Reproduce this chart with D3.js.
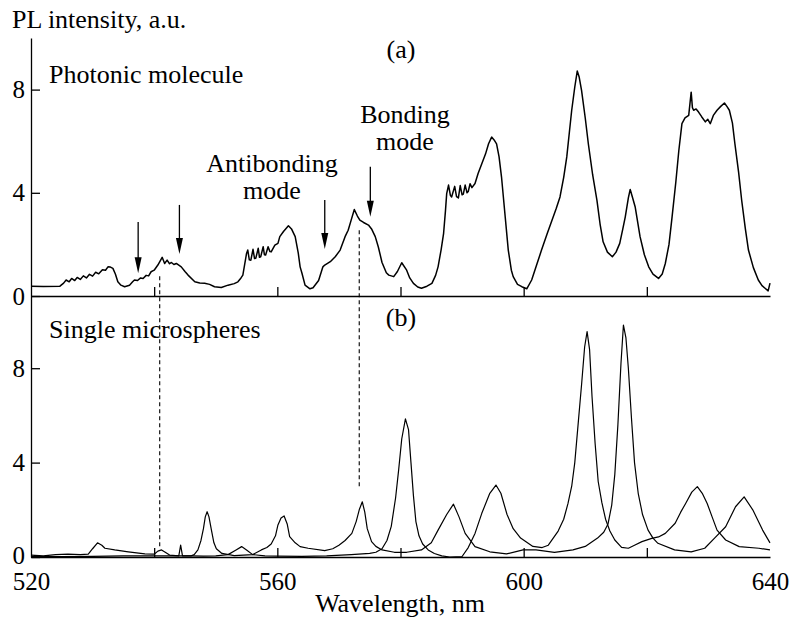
<!DOCTYPE html>
<html>
<head>
<meta charset="utf-8">
<title>PL spectra: photonic molecule vs single microspheres</title>
<script src="https://d3js.org/d3.v7.min.js"></script>
<style>
  html, body { margin: 0; padding: 0; background: #fff; }
  svg text { font-family: "Liberation Serif", "Times New Roman", serif; fill: #000; }
  .axis path, .axis line { stroke: #000; stroke-width: 1.3; }
  .axis text { font-family: "Liberation Serif", "Times New Roman", serif; font-size: 25px; }
  .curve { fill: none; stroke: #000; stroke-linejoin: round; }
</style>
</head>
<body>
<svg id="chart" width="793" height="621"></svg>
<script>
// wavelength (nm), intensity (a.u.)
const moleculeSpectrum = [
  [520,0.38],[522,0.37],[524.7,0.38],[525.3,0.5],[525.7,0.62],[526.2,0.55],[526.6,0.68],[527.1,0.6],
  [527.5,0.72],[528,0.64],[528.5,0.78],[529,0.7],[529.5,0.84],[530,0.77],[530.5,0.92],[531,0.86],
  [531.6,1.02],[532.1,1.0],[532.5,1.13],[532.9,1.12],[533.3,1.07],[533.7,0.85],[534.1,0.55],[534.6,0.42],
  [535.2,0.36],[536,0.42],[536.5,0.55],[536.8,0.62],[537.3,0.6],[537.8,0.7],[538.2,0.68],[538.7,0.8],
  [539.1,0.78],[539.5,0.94],[540,1.0],[540.6,1.2],[541.3,1.5],[541.7,1.26],[542.1,1.39],[542.5,1.25],
  [542.8,1.3],[543.2,1.22],[543.6,1.26],[544.4,1.13],[545,0.95],[545.5,0.81],[546.6,0.55],[547.4,0.5],
  [548.2,0.49],[549,0.45],[549.8,0.36],[550.9,0.33],[552,0.42],[553,0.48],[553.6,0.55],[554.1,0.7],
  [554.4,0.81],[555,1.65],[555.2,1.78],[555.45,1.4],[555.7,1.39],[556.05,1.81],[556.3,1.45],[556.5,1.46],
  [556.9,1.85],[557.1,1.5],[557.3,1.52],[557.7,1.91],[557.9,1.6],[558.1,1.59],[558.5,1.91],[558.8,1.72],
  [559,1.71],[559.6,1.97],[560.1,2.04],[560.4,2.3],[561,2.5],[561.8,2.72],[562.3,2.6],[562.9,2.3],
  [563.4,1.66],[563.7,1.13],[564,0.88],[564.5,0.42],[565.3,0.28],[565.8,0.32],[566.7,0.6],[567.4,1.13],
  [567.7,1.2],[568.6,1.33],[569.4,1.52],[570.2,1.78],[571,2.3],[571.5,2.55],[572,2.95],[572.5,3.35],
  [573,3.1],[573.4,2.94],[574,2.85],[574.8,2.75],[575.3,2.6],[575.9,2.3],[576.4,1.9],[577,1.3],
  [577.7,0.9],[578.1,0.81],[578.9,0.75],[579.5,0.95],[580.2,1.29],[581,1.0],[581.5,0.7],[582.1,0.49],
  [582.8,0.35],[583.4,0.3],[584.3,0.38],[585.1,0.49],[585.7,0.8],[586.1,1.13],[586.6,1.8],[587,2.43],
  [587.3,3.3],[587.5,3.97],[587.8,4.3],[588.1,3.9],[588.3,3.84],[588.8,4.25],[589.1,3.85],[589.4,3.8],
  [589.7,4.28],[590,3.92],[590.2,3.95],[590.5,4.3],[590.8,4.0],[591,4.05],[591.3,4.35],[591.6,4.2],
  [592.1,4.36],[592.6,4.75],[593.2,5.13],[593.8,5.5],[594.3,5.9],[594.8,6.16],[595.2,6.05],[595.6,5.9],
  [596,5.4],[596.4,4.62],[597,3.07],[597.5,1.78],[598,1.0],[598.3,0.75],[599,0.45],[599.7,0.36],
  [600.5,0.28],[601.3,0.62],[602.1,1.2],[602.9,1.78],[603.8,2.4],[604.6,2.94],[605.3,3.4],[605.9,3.84],
  [606.5,4.6],[607,5.39],[607.4,6.3],[607.8,7.2],[608.3,8.1],[608.7,8.72],[609,8.5],[609.4,7.97],
  [610,6.9],[610.5,5.9],[611.2,4.7],[611.9,3.71],[612.4,2.8],[612.9,2.1],[613.6,1.7],[614.4,1.52],
  [615,1.7],[615.6,2.04],[616.1,2.6],[616.5,3.07],[617,3.8],[617.3,4.13],[617.7,3.8],[618.1,3.46],
  [618.9,2.3],[619.6,1.6],[620.3,1.13],[621,0.85],[621.9,0.68],[622.5,0.85],[623,1.26],[623.6,2.0],
  [624.1,3.07],[624.7,4.4],[625.2,5.65],[625.7,6.68],[626.2,6.9],[626.8,7.0],[627.2,7.9],[627.4,7.3],
  [627.6,7.2],[628,7.25],[628.4,7.13],[628.9,6.95],[629.5,6.75],[629.9,6.85],[630.3,6.68],[630.8,7.0],
  [631.4,7.2],[632,7.35],[632.6,7.48],[633,7.35],[633.4,7.2],[633.9,6.7],[634.3,5.9],[634.9,4.8],
  [635.4,3.71],[636,2.6],[636.5,1.78],[637.3,1.1],[638.1,0.62],[638.7,0.4],[639.2,0.3],[639.7,0.2],[640,0.5]
];

const sphere1Spectrum = [
  [520,0.08],[522,0.05],[524,0.1],[526,0.12],[528,0.1],[529.3,0.12],[530,0.35],[530.8,0.6],[531.5,0.5],
  [532,0.37],[533.6,0.3],[535.8,0.22],[538.5,0.13],[540,0.12],[540.6,0.25],[541.2,0.3],[541.8,0.2],
  [542.5,0.08],[544,0.05],[546,0.05],[548,0.04],[550,0.05],[552,0.1],[553.3,0.3],[554.2,0.44],[555,0.3],
  [556,0.1],[558,0.05],[560,0.04],[564,0.03],[568,0.05],[572,0.1],[575,0.15],[576,0.2],[577,0.35],
  [577.8,0.7],[578.5,1.3],[579.2,2.5],[579.7,3.69],[580.2,5.0],[580.8,5.85],[581.3,5.4],[581.7,4.0],
  [582.1,2.6],[582.5,1.5],[583,0.9],[583.6,0.55],[584.5,0.3],[585.5,0.15],[586.7,0.05],[588,0.0],
  [590,0.02],[591,0.4],[592.1,1.0],[593.2,1.85],[594.5,2.7],[595.5,3.05],[596.3,2.7],[597.3,1.8],
  [598.3,1.2],[599.5,0.8],[601.5,0.45],[603,0.4],[604,0.5],[605.6,1.1],[606.5,1.6],[607.2,2.27],
  [607.8,3.0],[608.3,4.0],[608.9,5.8],[609.4,7.3],[609.9,8.9],[610.3,9.55],[610.7,8.8],[611.1,6.8],
  [611.6,4.82],[612.1,3.2],[612.7,2.3],[613.3,1.6],[614,1.1],[614.8,0.72],[615.9,0.41],[617,0.37],
  [618,0.5],[619.2,0.65],[620.8,0.79],[621.9,0.85],[623,1.0],[624.6,1.43],[625.5,1.9],[626.3,2.27],
  [627.3,2.75],[628.2,2.98],[629,2.7],[629.8,2.27],[630.6,1.7],[631.4,1.14],[632.8,0.72],[635,0.44],
  [638.2,0.37],[640,0.3]
];

const sphere2Spectrum = [
  [520,0.02],[525,0.02],[530,0.03],[535,0.05],[540,0.05],[544,0.05],[544.3,0.5],[544.6,0.05],[546,0.05],
  [546.5,0.1],[547.1,0.3],[547.6,0.7],[548,1.2],[548.3,1.7],[548.6,1.92],[548.9,1.7],[549.3,1.14],
  [549.7,0.6],[550.1,0.35],[551,0.15],[553,0.06],[556,0.1],[557.4,0.3],[558.3,0.4],[559,0.55],
  [559.7,0.9],[560.1,1.36],[560.6,1.65],[561.1,1.74],[561.6,1.4],[562,0.86],[562.9,0.6],[563.7,0.44],
  [565,0.37],[567.7,0.27],[569,0.35],[570,0.5],[571,0.7],[572.1,1.0],[572.8,1.5],[573.3,2.0],
  [573.8,2.34],[574.2,1.9],[574.6,1.2],[575.3,0.65],[576,0.45],[577,0.3],[579,0.2],[581,0.2],
  [583.4,0.3],[585,0.6],[586.1,1.14],[587.5,1.8],[588.6,2.24],[589.5,1.7],[590.5,1.0],[592.1,0.44],
  [594.5,0.22],[597.2,0.13],[599.9,0.3],[602,0.3],[605,0.2],[608,0.3],[610,0.45],[612,0.8],[613,1.05],
  [613.7,1.4],[614.3,2.2],[614.8,3.5],[615.3,5.6],[615.8,8.2],[616.2,9.83],[616.6,9.3],[617,8.0],
  [617.5,5.9],[618,4.0],[618.6,2.7],[619.3,1.8],[620.2,1.14],[621,0.8],[621.8,0.58],[624.5,0.3],
  [627.2,0.22],[629.4,0.37],[631,0.8],[632.8,1.28],[634.4,2.13],[635.8,2.55],[637.2,2.0],[638.8,1.14],[640,0.6]
];

// arrows in panel (a): wavelength, intensity at tail, intensity at tip
const modeArrows = [[537.4,2.87,0.88],[544.1,3.53,1.63],[567.7,3.72,1.82],[575.1,5.01,3.07]];
// dashed guides: wavelength, start intensity in (a), end intensity in (b)
const guideLines = [[540.9,0.77,0.44],[573.3,2.55,2.98]];

const xMinorTicks = [540,560,580,600,620];
const xLabelTicks = [520,560,600,640];
const yTicks = [0,4,8];

const svg = d3.select("#chart");
const x = d3.scaleLinear().domain([520,640]).range([31,770]);
const yA = d3.scaleLinear().domain([0,10]).range([296,38]);
const yB = d3.scaleLinear().domain([0,11.06]).range([557,296]);

// axes
function panelAxes(y, y0) {
  const g = svg.append("g").attr("class","axis")
    .attr("transform","translate(0," + y0 + ")")
    .call(d3.axisBottom(x).tickValues(xMinorTicks).tickSize(-9).tickSizeOuter(0).tickFormat(""));
  return svg.append("g").attr("class","axis")
    .attr("transform","translate(31,0)")
    .call(d3.axisLeft(y).tickValues(yTicks).tickSize(-9).tickSizeOuter(0).tickPadding(6));
}
panelAxes(yA, 296);
panelAxes(yB, 557)
  .selectAll(".tick text").filter(d => d === 0).attr("y", -2);

svg.append("g").attr("class","axis")
  .attr("transform","translate(0,557)")
  .call(d3.axisBottom(x).tickValues(xLabelTicks).tickSize(0).tickPadding(15))
  .call(g => g.select(".domain").remove());

// curves
const lineA = d3.line().x(d => x(d[0])).y(d => yA(d[1]));
const lineB = d3.line().x(d => x(d[0])).y(d => yB(d[1]));
svg.append("path").attr("class","curve").attr("stroke-width",1.5).attr("d", lineA(moleculeSpectrum));
svg.append("path").attr("class","curve").attr("stroke-width",1.2).attr("d", lineB(sphere1Spectrum));
svg.append("path").attr("class","curve").attr("stroke-width",1.2).attr("d", lineB(sphere2Spectrum));

// dashed guides
svg.selectAll(".guide").data(guideLines).enter().append("line")
  .attr("class","guide")
  .attr("x1", d => x(d[0])).attr("x2", d => x(d[0]))
  .attr("y1", d => yA(d[1])).attr("y2", d => yB(d[2]))
  .attr("stroke","#000").attr("stroke-width",1.1).attr("stroke-dasharray","4,3");

// arrows
const arrowG = svg.selectAll(".arrow").data(modeArrows).enter().append("g").attr("class","arrow");
arrowG.append("line")
  .attr("x1", d => x(d[0])).attr("x2", d => x(d[0]))
  .attr("y1", d => yA(d[1])).attr("y2", d => yA(d[2]) - 14)
  .attr("stroke","#000").attr("stroke-width",1.3);
arrowG.append("path")
  .attr("d", d => {
    const cx = x(d[0]), ty = yA(d[2]);
    return "M" + cx + "," + ty + "L" + (cx - 3.5) + "," + (ty - 16) + "L" + (cx + 3.5) + "," + (ty - 16) + "Z";
  })
  .attr("fill","#000");

// texts
const fs = 26;
function label(lines, xx, yy, anchor) {
  const t = svg.append("text").attr("x", xx).attr("y", yy).attr("font-size", fs)
    .attr("text-anchor", anchor || "start");
  [].concat(lines).forEach((s, i) => {
    t.append("tspan").attr("x", xx).attr("dy", i ? 27 : 0).text(s);
  });
}
label("PL intensity, a.u.", 12, 28);
label("Photonic molecule", 49, 83);
label("(a)", 401, 58, "middle");
label(["Antibonding", "mode"], 272, 172, "middle");
label(["Bonding", "mode"], 405, 123, "middle");
label("Single microspheres", 49, 338);
label("(b)", 401, 326, "middle");
label("Wavelength, nm", 400, 612, "middle");
</script>
</body>
</html>
